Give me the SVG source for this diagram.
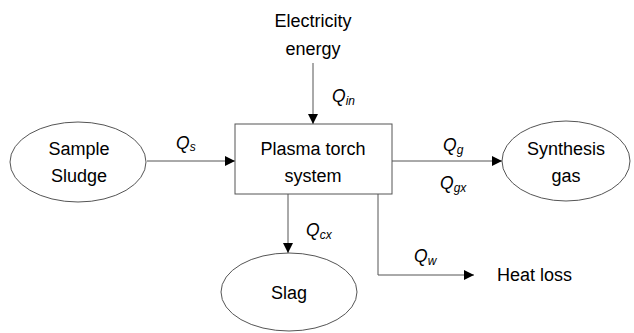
<svg xmlns="http://www.w3.org/2000/svg" width="634" height="333" viewBox="0 0 634 333">
<defs>
<style>
text{font-family:"Liberation Sans",Arial,sans-serif;font-size:18px;fill:#000}
.lab{text-anchor:middle}
.q{font-style:italic;font-size:17.5px}
.sub{font-size:12px}
.shape{fill:#fff;stroke:#555;stroke-width:1}
.line{fill:none;stroke:#555;stroke-width:1}
</style>
<marker id="ah" viewBox="0 0 10 10" refX="10" refY="5" markerWidth="10" markerHeight="10" markerUnits="userSpaceOnUse" orient="auto">
<path d="M0,0 L10,5 L0,10 z" fill="#000"/>
</marker>
</defs>
<rect width="634" height="333" fill="#fff"/>
<g id="connectors">
<line class="line" x1="147" y1="161" x2="235" y2="161" marker-end="url(#ah)"/>
<line class="line" x1="313" y1="63" x2="313" y2="124" marker-end="url(#ah)"/>
<line class="line" x1="392" y1="161" x2="502" y2="161" marker-end="url(#ah)"/>
<line class="line" x1="288" y1="194" x2="288" y2="253" marker-end="url(#ah)"/>
<polyline class="line" points="378,194 378,275 474,275" marker-end="url(#ah)"/>
<text class="q" x="176" y="149">Q<tspan class="sub" dy="2">s</tspan></text>
<text class="q" x="332" y="102">Q<tspan class="sub" dy="3">in</tspan></text>
<text class="q" x="443" y="151">Q<tspan class="sub" dy="3">g</tspan></text>
<text class="q" x="440" y="189">Q<tspan class="sub" dy="3">gx</tspan></text>
<text class="q" x="306" y="236">Q<tspan class="sub" dy="3">cx</tspan></text>
<text class="q" x="414" y="262">Q<tspan class="sub" dy="3">w</tspan></text>
</g>
<g id="electricity">
<text class="lab" x="313" y="27">Electricity</text>
<text class="lab" x="313" y="55">energy</text>
</g>
<g id="sludge">
<ellipse class="shape" cx="78" cy="162" rx="68" ry="40"/>
<text class="lab" x="79" y="155">Sample</text>
<text class="lab" x="79" y="182">Sludge</text>
</g>
<g id="plasma">
<rect class="shape" x="235" y="124" width="157" height="70"/>
<text class="lab" x="313" y="155">Plasma torch</text>
<text class="lab" x="313" y="182">system</text>
</g>
<g id="syngas">
<ellipse class="shape" cx="566" cy="161" rx="64" ry="40"/>
<text class="lab" x="566" y="155">Synthesis</text>
<text class="lab" x="566" y="182">gas</text>
</g>
<g id="slag">
<ellipse class="shape" cx="289" cy="292" rx="68" ry="39"/>
<text class="lab" x="289" y="299">Slag</text>
</g>
<g id="heatloss">
<text x="497" y="281">Heat loss</text>
</g>
</svg>
